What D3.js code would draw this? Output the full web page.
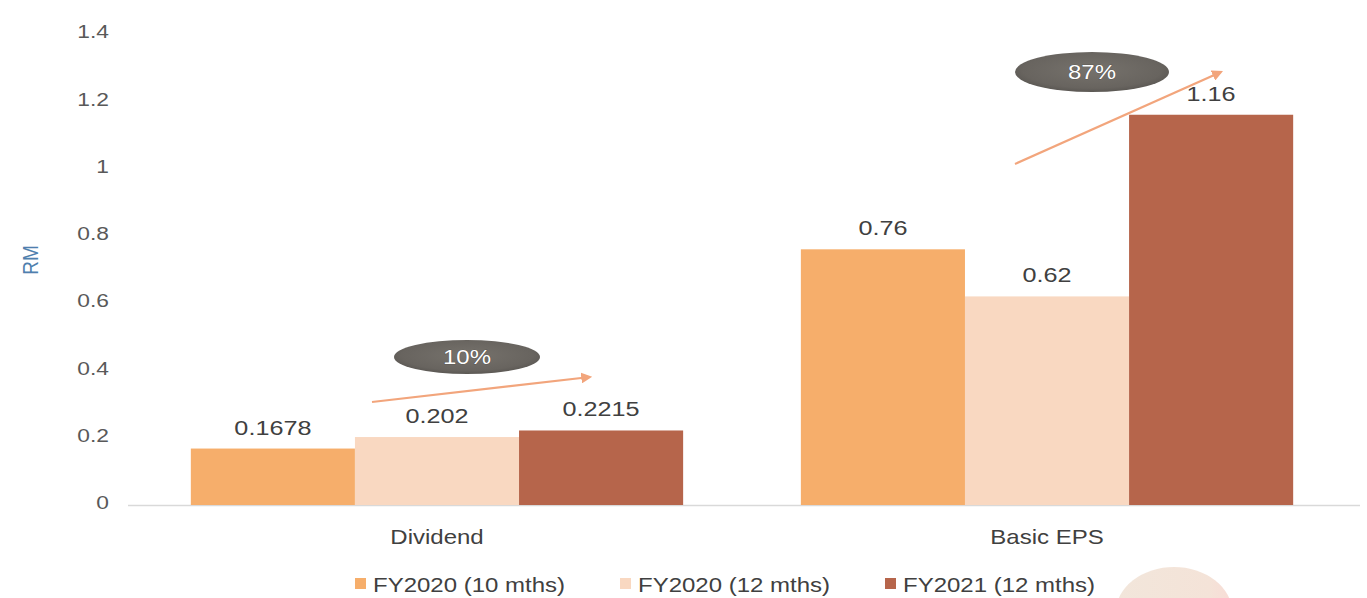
<!DOCTYPE html>
<html>
<head>
<meta charset="utf-8">
<script src="https://cdn.jsdelivr.net/npm/d3@7"></script>
<style>
  html, body { margin: 0; padding: 0; background: #ffffff; }
  svg { display: block; }
  text { font-family: "Liberation Sans", Arial, sans-serif; }
</style>
</head>
<body>
<svg id="chart" width="1367" height="598"></svg>
<script>
// ---- data ----
const categories = ["Dividend", "Basic EPS"];
const seriesNames = ["FY2020 (10 mths)", "FY2020 (12 mths)", "FY2021 (12 mths)"];
const fy2020_10m = [0.1678, 0.76];
const fy2020_12m = [0.202, 0.62];
const fy2021_12m = [0.2215, 1.16];
const valueLabels = [["0.1678", "0.202", "0.2215"], ["0.76", "0.62", "1.16"]];
const yTicks = [0, 0.2, 0.4, 0.6, 0.8, 1, 1.2, 1.4];
const growthLabels = ["10%", "87%"];

const seriesValues = [fy2020_10m, fy2020_12m, fy2021_12m];
const colors = ["#f6ae6b", "#f9d8c1", "#b6654b"];

// ---- layout ----
const W = 1367, H = 598;
const margin = { left: 128, right: 11, top: 34, bottom: 93 };
const baseY = H - margin.bottom;      // y of value 0
const SX = 1.2;                        // horizontal text stretch

const svg = d3.select("#chart");

const x0 = d3.scaleBand()
  .domain(categories)
  .range([margin.left, W - margin.right])
  .paddingInner(0.193)
  .paddingOuter(0.103);

const x1 = d3.scaleBand()
  .domain(seriesNames)
  .range([0, x0.bandwidth()])
  .padding(0);

const y = d3.scaleLinear().domain([0, 1.4]).range([baseY, margin.top]);

// stretched text helper
function stext(g, x, yy, str, opts) {
  const t = g.append("text")
    .attr("transform", `translate(${x},${yy}) scale(${SX},1)` + (opts.rotate ? ` rotate(${opts.rotate})` : ""))
    .attr("text-anchor", opts.anchor || "middle")
    .attr("font-size", opts.size || 21)
    .attr("fill", opts.fill || "#404040")
    .text(str);
  if (opts.dy) t.attr("dy", opts.dy);
  return t;
}

// defs: gradients
const defs = svg.append("defs");
const eg = defs.append("radialGradient").attr("id", "ellGrad").attr("cx", "50%").attr("cy", "45%").attr("r", "60%");
eg.append("stop").attr("offset", "0%").attr("stop-color", "#76726c");
eg.append("stop").attr("offset", "75%").attr("stop-color", "#68645f");
eg.append("stop").attr("offset", "100%").attr("stop-color", "#55524e");

const bg = defs.append("linearGradient").attr("id", "blobGrad").attr("x1", "0%").attr("x2", "100%");
bg.append("stop").attr("offset", "0%").attr("stop-color", "#f2e6db");
bg.append("stop").attr("offset", "80%").attr("stop-color", "#f4e3d8");
bg.append("stop").attr("offset", "100%").attr("stop-color", "#f8dcd6");

defs.append("marker")
  .attr("id", "arrowHead")
  .attr("viewBox", "0 0 10 10")
  .attr("refX", 8).attr("refY", 5)
  .attr("markerWidth", 5).attr("markerHeight", 5)
  .attr("orient", "auto")
  .append("path")
  .attr("d", "M0,0 L10,5 L0,10 z")
  .attr("fill", "#f2a57c");

// y axis (labels only)
const yAxis = d3.axisLeft(y).tickValues(yTicks).tickSize(0).tickPadding(0)
  .tickFormat(d => String(d));
const yg = svg.append("g").attr("transform", `translate(109,0)`).call(yAxis);
yg.select(".domain").remove();
yg.selectAll(".tick text")
  .attr("x", 0)
  .attr("dy", "0.2em")
  .attr("font-size", 19)
  .attr("font-family", "'Liberation Sans', Arial, sans-serif")
  .attr("fill", "#595959")
  .attr("transform", `scale(${SX},1)`)
  .attr("text-anchor", "end");

// y title
stext(svg, 30, 260, "RM", { rotate: -90, size: 19, fill: "#4f7fae", dy: "0.35em" });

// baseline
svg.append("line")
  .attr("x1", margin.left).attr("x2", W - 7)
  .attr("y1", baseY + 0.5).attr("y2", baseY + 0.5)
  .attr("stroke", "#d9d9d9").attr("stroke-width", 1.5);

// bars
const groups = svg.append("g").selectAll("g")
  .data(categories)
  .join("g")
  .attr("transform", d => `translate(${x0(d)},0)`);

groups.selectAll("rect")
  .data((d, ci) => seriesNames.map((s, si) => ({ s, si, ci, v: seriesValues[si][ci] })))
  .join("rect")
  .attr("x", d => x1(d.s))
  .attr("width", x1.bandwidth())
  .attr("y", d => y(d.v))
  .attr("height", d => baseY - y(d.v))
  .attr("fill", d => colors[d.si]);

// value labels
groups.each(function (c, ci) {
  const g = d3.select(this);
  seriesNames.forEach((s, si) => {
    const v = seriesValues[si][ci];
    stext(g, x1(s) + x1.bandwidth() / 2, y(v) - 14, valueLabels[ci][si], { size: 21, fill: "#404040" });
  });
});

// category labels
categories.forEach(c => {
  stext(svg, x0(c) + x0.bandwidth() / 2, 544, c, { size: 20, fill: "#404040" });
});

// growth arrows and callouts
const arrows = [
  { from: [372, 402], to: [590, 377], ell: [467, 357, 73, 17] },
  { from: [1015, 164], to: [1221, 72], ell: [1092, 72, 77, 20] }
];
arrows.forEach((a, i) => {
  svg.append("line")
    .attr("x1", a.from[0]).attr("y1", a.from[1])
    .attr("x2", a.to[0]).attr("y2", a.to[1])
    .attr("stroke", "#f2a57c").attr("stroke-width", 2.2)
    .attr("marker-end", "url(#arrowHead)");
  svg.append("ellipse")
    .attr("cx", a.ell[0]).attr("cy", a.ell[1])
    .attr("rx", a.ell[2]).attr("ry", a.ell[3])
    .attr("fill", "url(#ellGrad)");
  stext(svg, a.ell[0], a.ell[1], growthLabels[i], { size: 20, fill: "#ffffff", dy: "0.35em" })
    .attr("stroke", "#4a4743").attr("stroke-width", 0.6).attr("paint-order", "stroke");
});

// legend
const legend = svg.append("g");
seriesNames.forEach((s, i) => {
  const tx = 373 + i * 265;
  legend.append("rect")
    .attr("x", tx - 18).attr("y", 578)
    .attr("width", 11).attr("height", 11)
    .attr("fill", colors[i]);
  stext(legend, tx, 592, s, { anchor: "start", size: 20, fill: "#404040" });
});

// decorative blob at lower right
svg.append("ellipse")
  .attr("cx", 1174).attr("cy", 612)
  .attr("rx", 58).attr("ry", 45)
  .attr("fill", "url(#blobGrad)");
</script>
</body>
</html>
